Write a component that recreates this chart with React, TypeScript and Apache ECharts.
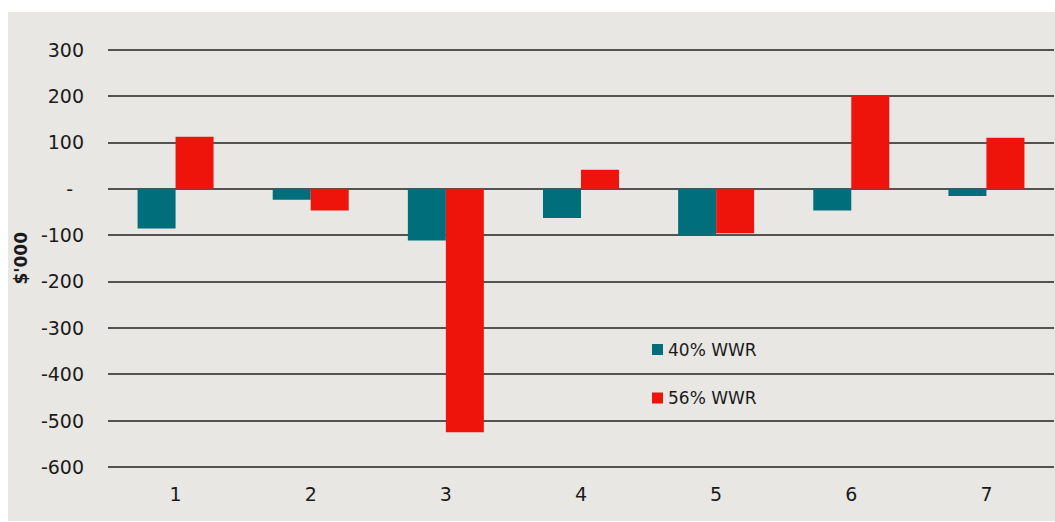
import React, { useEffect, useRef } from "react";
import * as echarts from "echarts";

const categories = ["1", "2", "3", "4", "5", "6", "7"];
const wwr40 = [-86, -24, -112, -63, -101, -47, -16];
const wwr56 = [112, -47, -525, 41, -96, 201, 110];
const seriesNames = ["40% WWR", "56% WWR"];
const yTicks = { min: -600, max: 300, interval: 100 };

const FONT = "DejaVu Sans";

export default function App() {
  const ref = useRef<HTMLDivElement>(null);
  useEffect(() => {
    if (!ref.current) return;
    const chart = echarts.init(ref.current, undefined, { renderer: "svg" });
    chart.setOption({
      animation: false,
      backgroundColor: "#e8e7e3",
      textStyle: { fontFamily: FONT },
      grid: {
        left: 100,
        right: 1,
        top: 37.5,
        bottom: 54,
        containLabel: false,
        outerBoundsMode: "none",
      },
      legend: {
        orient: "vertical",
        left: 639,
        top: 322.5,
        itemWidth: 11,
        itemHeight: 11,
        itemGap: 28.5,
        icon: "rect",
        textStyle: { fontFamily: FONT, fontSize: 17, lineHeight: 20, color: "#1b1b1b" },
        data: seriesNames,
      },
      xAxis: {
        type: "category",
        data: categories,
        axisLine: { show: false, onZero: false },
        axisTick: { show: false },
        axisLabel: { fontFamily: FONT, fontSize: 19, color: "#1b1b1b", margin: 17 },
        splitLine: { show: false },
      },
      yAxis: {
        type: "value",
        min: yTicks.min,
        max: yTicks.max,
        interval: yTicks.interval,
        name: "$'000",
        nameLocation: "middle",
        nameRotate: 90,
        nameGap: 72,
        nameTextStyle: { fontFamily: FONT, fontSize: 17, fontWeight: "bold", color: "#1b1b1b" },
        axisLine: { show: false },
        axisTick: { show: false },
        axisLabel: {
          fontFamily: FONT,
          fontSize: 19,
          color: "#1b1b1b",
          margin: 24,
          formatter: (v: number) => (v === 0 ? "{z|-}" : String(v)),
          rich: { z: { fontFamily: FONT, fontSize: 19, color: "#1b1b1b", padding: [0, 11, 0, 0] } },
        },
        splitLine: { show: true, lineStyle: { color: "#222", width: 1.5 } },
      },
      series: [
        {
          name: seriesNames[0],
          type: "bar",
          data: wwr40,
          barWidth: 38,
          barGap: "0%",
          itemStyle: { color: "#006e7b" },
        },
        {
          name: seriesNames[1],
          type: "bar",
          data: wwr56,
          barWidth: 38,
          barGap: "0%",
          itemStyle: { color: "#ef140b" },
        },
      ],
    });
    return () => chart.dispose();
  }, []);
  return (
    <div
      ref={ref}
      style={{ position: "absolute", left: 8, top: 12, width: 1047, height: 509 }}
    />
  );
}
